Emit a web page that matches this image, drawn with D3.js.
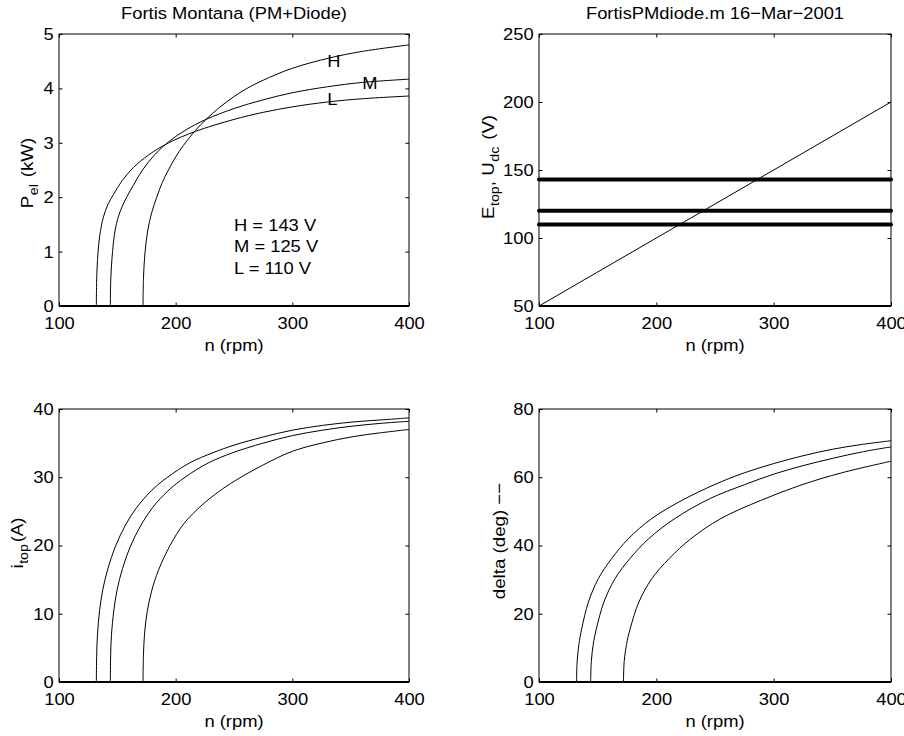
<!DOCTYPE html>
<html>
<head>
<meta charset="utf-8">
<script src="https://cdn.jsdelivr.net/npm/d3@7"></script>
<style>
  html, body { margin: 0; padding: 0; background: #fff; }
  svg { display: block; }
  text { font-family: "Liberation Sans", Arial, Helvetica, sans-serif; fill: #000; }
</style>
</head>
<body>
<svg id="fig" width="904" height="736"></svg>
<script>
// ---- data ---------------------------------------------------------------
const rpmTicks = [100, 200, 300, 400];
const pTicks = [0, 1, 2, 3, 4, 5];
const eTicks = [50, 100, 150, 200, 250];
const iTicks = [0, 10, 20, 30, 40];
const dTicks = [0, 20, 40, 60, 80];

const levelNames = ["H", "M", "L"];
const levelText = ["H = 143 V", "M = 125 V", "L = 110 V"];

// electrical power P_el (kW) vs speed n (rpm)
const nH_P = [100, 172, 172.4, 173.8, 176, 179.5, 183.8, 188.5, 193.8, 200, 206.6, 217, 226, 237, 250, 262, 275, 300, 332, 360, 400];
const pH   = [0, 0, 0.5, 1.0, 1.38, 1.72, 2.0, 2.27, 2.5, 2.74, 2.95, 3.23, 3.43, 3.64, 3.85, 4.01, 4.15, 4.37, 4.56, 4.68, 4.80];
const nM_P = [100, 144, 144.4, 145.9, 148, 151, 154, 158, 164, 171.6, 182, 194, 209, 226, 250, 275, 300, 330, 360, 400];
const pM   = [0, 0, 0.5, 1.0, 1.38, 1.65, 1.82, 2.0, 2.23, 2.5, 2.78, 3.02, 3.24, 3.43, 3.63, 3.79, 3.92, 4.03, 4.11, 4.17];
const nL_P = [100, 132, 132.3, 133.3, 135, 138, 142, 146.7, 154, 164, 177, 194, 217, 250, 275, 300, 330, 360, 400];
const pL   = [0, 0, 0.48, 0.95, 1.3, 1.63, 1.87, 2.05, 2.3, 2.55, 2.78, 3.0, 3.21, 3.43, 3.56, 3.66, 3.75, 3.81, 3.86];

// source EMF E_top (V) and DC-link voltages U_dc (V)
const nE   = [100, 400];
const eTop = [50, 200];
const uDc  = [143, 120, 110];

// current i_top (A)
const nH_i = [100, 172, 172.4, 173.3, 175.6, 179.5, 185.3, 195.2, 207, 222.4, 237, 251, 275, 300, 325, 352, 375, 400];
const iH   = [0, 0, 4, 7, 10.3, 13.4, 16.4, 20, 23.2, 25.9, 27.9, 29.5, 31.8, 33.8, 35.0, 35.95, 36.5, 37.0];
const nM_i = [100, 144, 144.3, 145, 147, 149.8, 154.4, 161, 170.3, 180.4, 193.4, 208, 228, 249, 275, 300, 326, 352, 376, 400];
const iM   = [0, 0, 4, 7, 10.5, 13.5, 16.6, 19.8, 23, 25.6, 28, 30, 32.1, 33.6, 35.0, 36.1, 36.9, 37.5, 37.9, 38.2];
const nL_i = [100, 132, 132.3, 133, 134.8, 137.5, 141.9, 148.2, 157, 166.7, 179, 193, 212, 232, 250, 275, 300, 326, 352, 376, 400];
const iL   = [0, 0, 4, 7, 10.5, 13.5, 16.6, 19.8, 23, 25.6, 28, 30, 32.1, 33.6, 34.7, 35.9, 36.9, 37.6, 38.1, 38.4, 38.7];

// load angle delta (deg)
const nH_d = [100, 172, 172.6, 174.6, 177.7, 185.1, 196.2, 211, 229.5, 255, 289, 325, 358, 400];
const dH   = [0, 0, 6, 11, 15.6, 23.4, 30.3, 36.2, 42, 47.9, 53.2, 57.9, 61.3, 64.7];
const nM_d = [100, 144, 144.6, 146.2, 148.9, 155.3, 164.8, 177.6, 193.5, 215.8, 246, 275, 300, 325, 351, 375, 400];
const dM   = [0, 0, 6, 11, 15.6, 23.4, 30.3, 36.2, 42, 47.9, 53.8, 57.8, 60.9, 63.4, 65.6, 67.4, 68.9];
const nL_d = [100, 132, 132.5, 134, 136.4, 142.1, 150.6, 162, 176.2, 196.1, 221.7, 250, 275, 300, 325, 350, 375, 400];
const dL   = [0, 0, 6, 11, 15.6, 23.4, 30.3, 36.2, 42, 47.9, 53.2, 57.9, 61.3, 64, 66.3, 68.2, 69.6, 70.7];

// ---- drawing ------------------------------------------------------------
const SX = 1.08;      // glyph stretch along the baseline
const SXV = 1.1;      // same for the rotated axis labels
const FS = 17;        // font size
const SUB = 13;       // subscript size
const TICK = 3.5;

const svg = d3.select("#fig");
const zip = (a, b) => a.map((v, i) => [v, b[i]]);
const fmt = d3.format("~g");

function panel(o) {
  const g = svg.append("g");
  const x = d3.scaleLinear().domain([100, 400]).range([o.x0, o.x1]);
  const y = d3.scaleLinear().domain(o.yDomain).range([o.y1, o.y0]);

  // each curve: flat run at zero up to the cut-in speed, then the smooth rise
  const line = d3.line().x(d => x(d[0])).y(d => y(d[1])).curve(d3.curveCatmullRom.alpha(0.5));
  (o.series || []).forEach(s => {
    const pts = zip(s[0], s[1]);
    const k = pts.findIndex((p, i) => i > 0 && p[1] > 0) - 1;
    g.append("path")
      .attr("d", `M${x(pts[0][0])},${y(0)}L${x(pts[k][0])},${y(0)}` + line(pts.slice(k)).replace(/^M[^C]*/, ""))
      .attr("fill", "none").attr("stroke", "#000").attr("stroke-width", 1);
  });

  const styleAxis = sel => {
    sel.select(".domain").remove();
    sel.selectAll(".tick line").attr("stroke", "#000").attr("stroke-width", 1);
    sel.selectAll(".tick text").attr("font-size", FS).attr("fill", "#000")
      .attr("transform", `scale(${SX},1)`);
    sel.attr("font-family", null).attr("font-size", null);
  };

  g.append("g").attr("transform", `translate(0,${o.y1})`)
    .call(d3.axisBottom(x).tickValues(rpmTicks).tickFormat(fmt).tickSize(-TICK).tickSizeOuter(0).tickPadding(11))
    .call(styleAxis);
  g.append("g").attr("transform", `translate(0,${o.y0})`)
    .call(d3.axisTop(x).tickValues(rpmTicks).tickSize(-TICK).tickSizeOuter(0).tickFormat(() => ""))
    .call(styleAxis);
  g.append("g").attr("transform", `translate(${o.x0},0)`)
    .call(d3.axisLeft(y).tickValues(o.yTicks).tickFormat(fmt).tickSize(-TICK).tickSizeOuter(0).tickPadding(5))
    .call(styleAxis);
  g.append("g").attr("transform", `translate(${o.x1},0)`)
    .call(d3.axisRight(y).tickValues(o.yTicks).tickSize(-TICK).tickSizeOuter(0).tickFormat(() => ""))
    .call(styleAxis);

  // axes box
  g.append("rect").attr("x", o.x0).attr("y", o.y0)
    .attr("width", o.x1 - o.x0).attr("height", o.y1 - o.y0)
    .attr("fill", "none").attr("stroke", "#000").attr("stroke-width", 1);
  g.append("line").attr("x1", o.x0).attr("x2", o.x1).attr("y1", o.y1).attr("y2", o.y1)
    .attr("stroke", "#000").attr("stroke-width", 2);

  // x label
  g.append("text").attr("transform", `translate(${(o.x0 + o.x1) / 2},${o.y1 + 45}) scale(${SX},1)`)
    .attr("text-anchor", "middle").attr("font-size", FS).text("n (rpm)");

  // title
  if (o.title) {
    g.append("text").attr("transform", `translate(${(o.x0 + o.x1) / 2},${o.y0 - 15}) scale(${SX},1)`)
      .attr("text-anchor", "middle").attr("font-size", FS).text(o.title);
  }

  // y label (rotated, with subscripts)
  const yl = g.append("text")
    .attr("transform", `translate(${o.ylabelX},${o.ylabelY}) rotate(-90) scale(${SXV},1)`)
    .attr("text-anchor", "middle").attr("font-size", FS);
  let shifted = false;
  o.ylabel.forEach(part => {
    const t = yl.append("tspan").text(part.t);
    if (part.sub) { t.attr("font-size", SUB).attr("dy", 5).attr("dx", 0.5); shifted = true; }
    else if (shifted) { t.attr("dy", -5).attr("dx", part.t[0] === "," ? 0 : 1.5); shifted = false; }
  });

  return { g, x, y };
}

// top left: electrical power
const pTL = panel({
  x0: 59, x1: 409, y0: 34, y1: 306,
  yDomain: [0, 5], yTicks: pTicks,
  title: "Fortis Montana (PM+Diode)",
  ylabelX: 33, ylabelY: 173,
  ylabel: [{ t: "P" }, { t: "el", sub: true }, { t: " (kW)" }],
  series: [[nH_P, pH], [nM_P, pM], [nL_P, pL]]
});
const curveTags = [[330, 4.5], [360, 4.1], [330, 3.8]];
levelNames.forEach((s, i) => {
  pTL.g.append("text")
    .attr("transform", `translate(${pTL.x(curveTags[i][0])},${pTL.y(curveTags[i][1])}) scale(${SX},1)`)
    .attr("dy", "0.36em").attr("font-size", FS).text(s);
});
const notePos = [1.5, 1.1, 0.7];
levelText.forEach((s, i) => {
  pTL.g.append("text")
    .attr("transform", `translate(${pTL.x(250)},${pTL.y(notePos[i])}) scale(${SX},1)`)
    .attr("dy", "0.36em").attr("font-size", FS).text(s);
});

// top right: EMF and DC-link voltage levels
const pTR = panel({
  x0: 539, x1: 891, y0: 34, y1: 306,
  yDomain: [50, 250], yTicks: eTicks,
  title: "FortisPMdiode.m 16\u2212Mar\u22122001",
  ylabelX: 494, ylabelY: 167,
  ylabel: [{ t: "E" }, { t: "top", sub: true }, { t: ", U" }, { t: "dc", sub: true }, { t: " (V)" }],
  series: []
});
pTR.g.append("path")
  .attr("d", d3.line().x(d => pTR.x(d[0])).y(d => pTR.y(d[1]))(zip(nE, eTop)))
  .attr("fill", "none").attr("stroke", "#000").attr("stroke-width", 1);
uDc.forEach(u => {
  pTR.g.append("line")
    .attr("x1", pTR.x(100)).attr("x2", pTR.x(400))
    .attr("y1", pTR.y(u)).attr("y2", pTR.y(u))
    .attr("stroke", "#000").attr("stroke-width", 4).attr("stroke-linecap", "round");
});

// bottom left: current
panel({
  x0: 59, x1: 409, y0: 409, y1: 682,
  yDomain: [0, 40], yTicks: iTicks,
  ylabelX: 23, ylabelY: 543,
  ylabel: [{ t: "i" }, { t: "top", sub: true }, { t: "(A)" }],
  series: [[nH_i, iH], [nM_i, iM], [nL_i, iL]]
});

// bottom right: load angle
panel({
  x0: 539, x1: 891, y0: 409, y1: 682,
  yDomain: [0, 80], yTicks: dTicks,
  ylabelX: 505, ylabelY: 541,
  ylabel: [{ t: "delta (deg) \u2212\u2212" }],
  series: [[nH_d, dH], [nM_d, dM], [nL_d, dL]]
});
</script>
</body>
</html>
